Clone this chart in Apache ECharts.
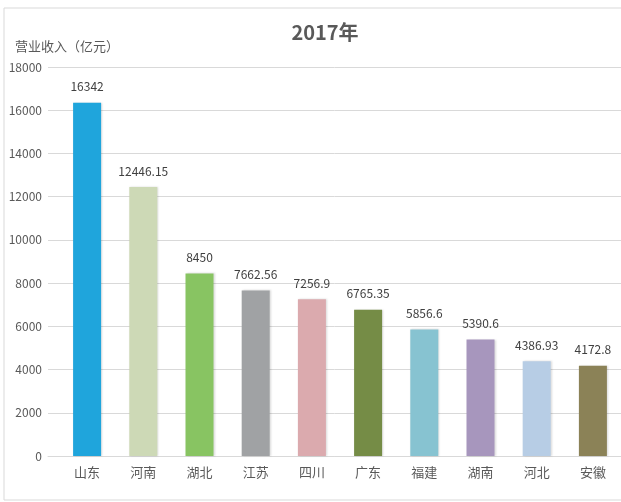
<!DOCTYPE html>
<html>
<head>
<meta charset="utf-8">
<script src="https://cdn.jsdelivr.net/npm/echarts@6/dist/echarts.min.js"></script>
<style>
html, body { margin: 0; padding: 0; background: #fff; }
#chart { width: 621px; height: 502px; }
</style>
</head>
<body>
<div id="chart"></div>
<script>
// 2017年 各省营业收入
var provinces = ['山东', '河南', '湖北', '江苏', '四川', '广东', '福建', '湖南', '河北', '安徽'];
var revenue = [16342, 12446.15, 8450, 7662.56, 7256.9, 6765.35, 5856.6, 5390.6, 4386.93, 4172.8];
var barColors = ['#1fa5dc', '#cdd9b6', '#88c462', '#a0a2a4', '#dbaaae', '#758c46', '#87c3d1', '#a796bd', '#b7cde5', '#8b8257'];

var fontCn = '"Noto Sans CJK SC", "Noto Sans", sans-serif';

var chart = echarts.init(document.getElementById('chart'));

var option = {
    backgroundColor: '#fff',
    animation: false,
    textStyle: { fontFamily: fontCn },
    title: {
        text: '2017年',
        left: 320,
        top: 17,
        textAlign: 'center',
        textStyle: { fontSize: 20, fontWeight: 'bold', color: '#595959', fontFamily: fontCn }
    },
    graphic: [{
        type: 'rect',
        shape: { x: 4, y: 8, width: 640, height: 492 },
        style: { fill: 'none', stroke: '#d9d9d9', lineWidth: 1 },
        silent: true
    }],
    // grid 0: 网格线和y轴刻度; grid 1: 柱子
    grid: [
        { left: 48, top: 67, width: 576, height: 389 },
        { left: 59, top: 67, width: 565, height: 389 }
    ],
    xAxis: [
        {
            gridIndex: 0,
            type: 'category',
            data: provinces,
            axisLine: { lineStyle: { color: '#d9d9d9', width: 1 } },
            axisTick: { show: false },
            axisLabel: { show: false }
        },
        {
            gridIndex: 1,
            type: 'category',
            data: provinces,
            axisLine: { show: false },
            axisTick: { show: false },
            axisLabel: { color: '#595959', fontSize: 13, margin: 10, fontFamily: fontCn }
        }
    ],
    yAxis: [
        {
            gridIndex: 0,
            type: 'value',
            min: 0,
            max: 18000,
            interval: 2000,
            name: '营业收入（亿元）',
            nameLocation: 'end',
            nameGap: 14,
            nameTextStyle: { color: '#595959', fontSize: 13, align: 'left', padding: [0, 0, 0, -33], fontFamily: fontCn },
            axisLine: { show: false },
            axisTick: { show: false },
            axisLabel: { color: '#595959', fontSize: 12, margin: 6, formatter: function (v) { return String(v); } },
            splitLine: { lineStyle: { color: '#d9d9d9', width: 1 } }
        },
        {
            gridIndex: 1,
            type: 'value',
            min: 0,
            max: 18000,
            interval: 2000,
            axisLine: { show: false },
            axisTick: { show: false },
            axisLabel: { show: false },
            splitLine: { show: false }
        }
    ],
    series: [{
        type: 'bar',
        xAxisIndex: 1,
        yAxisIndex: 1,
        barWidth: 28,
        data: revenue.map(function (v, i) {
            return { value: v, itemStyle: { color: barColors[i] } };
        }),
        itemStyle: {
            shadowColor: 'rgba(0,0,0,0.15)',
            shadowBlur: 2,
            shadowOffsetX: 1
        },
        label: {
            show: true,
            position: 'top',
            distance: 10,
            color: '#404040',
            fontSize: 12
        }
    }]
};

chart.setOption(option);
</script>
</body>
</html>
